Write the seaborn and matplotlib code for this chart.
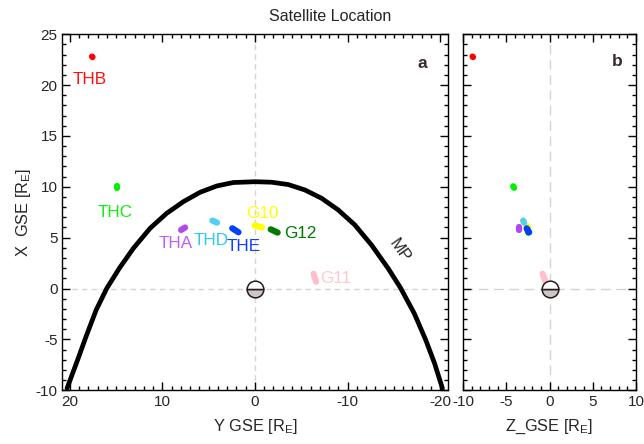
import matplotlib
matplotlib.use("Agg")
import matplotlib.pyplot as plt
from matplotlib.ticker import MultipleLocator
import pandas as pd
import seaborn as sns

# magnetopause curve (Y GSE, X GSE)
mp_y = [20.3, 19.15, 18.25, 17.15, 16.0, 14.65, 13.13, 11.33, 9.53, 7.73, 5.93, 4.13, 2.34, 0.0,
        -1.8, -3.6, -5.39, -7.2, -9.0, -10.79, -12.59, -14.38, -15.7, -17.2, -18.45, -19.4, -20.25]
mp_x = [-9.81, -7.0, -4.73, -2.1, 0.03, 1.99, 3.96, 5.92, 7.4, 8.54, 9.46, 10.08, 10.42, 10.5,
        10.45, 10.22, 9.69, 8.87, 7.72, 6.25, 4.28, 1.99, 0.1, -2.43, -5.06, -7.35, -9.81]

# satellite tracks: start and end of each short track
sats = ["G10", "G12", "G11", "THB", "THC", "THA", "THD", "THE"]
sat_y = [[0.05, -0.75], [-1.7, -2.45], [-6.33, -6.6], [17.6, 17.55], [14.9, 14.9],
         [7.55, 7.98], [4.6, 4.1], [2.45, 1.78]]
sat_x = [[6.2, 6.02], [5.82, 5.5], [1.45, 0.67], [22.8, 22.75], [10.05, 9.9],
         [6.0, 5.76], [6.68, 6.48], [5.92, 5.53]]
sat_z = [[-2.65, -2.45], [-2.55, -2.45], [-0.8, -0.48], [-8.9, -8.85], [-4.2, -4.1],
         [-3.5, -3.5], [-3.05, -2.95], [-2.65, -2.35]]
sat_colors = ["#ffff00", "#007a00", "#ffc0cb", "#ff0000", "#00f000",
              "#b048f0", "#50d0f0", "#0040ff"]

# label positions (Y, X)
lab_y = [-0.81, -4.91, -8.72, 17.8, 15.08, 8.58, 4.77, 1.17]
lab_x = [7.35, 5.41, 0.97, 20.5, 7.48, 4.38, 4.68, 4.09]
lab_colors = ["#ffff00", "#007a00", "#ffc8d0", "#ff1010", "#10f010",
              "#c060f0", "#30c8f0", "#1040ff"]

sns.set_style("ticks")
plt.rcParams['font.family'] = ['Liberation Sans', 'DejaVu Sans']
plt.rcParams['font.size'] = 10
plt.rcParams['axes.unicode_minus'] = False
plt.rcParams['mathtext.fontset'] = 'custom'
plt.rcParams['mathtext.rm'] = 'Liberation Sans'

fig = plt.figure(figsize=(6.44, 4.44), dpi=100)
ax = fig.add_axes([0.0969, 0.121, 0.598, 0.802])
bx = fig.add_axes([0.719, 0.121, 0.2686, 0.802])

ax.axvline(0, color="#d4d4d4", lw=1, ls=(0, (4, 3)), zorder=0)
ax.axhline(0, color="#d4d4d4", lw=1, ls=(0, (4, 3)), zorder=0)
bx.axvline(0, color="#d4d4d4", lw=1, ls=(0, (7, 4)), zorder=0)
bx.axhline(0, color="#d4d4d4", lw=1, ls=(0, (7, 4)), zorder=0)

mp = pd.DataFrame({"Y": mp_y, "X": mp_x})
sns.lineplot(data=mp, x="Y", y="X", sort=False, estimator=None, color="black",
             lw=3.4, solid_joinstyle="round", ax=ax, zorder=3)

for i, name in enumerate(sats):
    d = pd.DataFrame({"Y": sat_y[i], "X": sat_x[i], "Z": sat_z[i]})
    sns.lineplot(data=d, x="Y", y="X", sort=False, estimator=None, color=sat_colors[i],
                 lw=4.5, solid_capstyle="round", ax=ax, zorder=4)
    sns.lineplot(data=d, x="Z", y="X", sort=False, estimator=None, color=sat_colors[i],
                 lw=4.5, solid_capstyle="round", ax=bx, zorder=4)
    ax.text(lab_y[i], lab_x[i], name, color=lab_colors[i], ha="center", va="center",
            fontsize=12.3)

ax.text(-15.64, 3.71, "MP", rotation=-55, ha="center", va="center", fontsize=12)

# Earth
for a in (ax, bx):
    a.plot([0], [0], marker="o", ms=12, fillstyle="bottom", markerfacecolor="#c8c8c8",
           markerfacecoloralt="white", markeredgecolor="#2a1a1a", mew=1.1, zorder=5)

ax.set_xlim(20.8, -20.8)
ax.set_ylim(-10, 25)
bx.set_xlim(-10, 10)
bx.set_ylim(-10, 25)

ax.xaxis.set_major_locator(MultipleLocator(10))
ax.xaxis.set_minor_locator(MultipleLocator(1))
bx.xaxis.set_major_locator(MultipleLocator(5))
bx.xaxis.set_minor_locator(MultipleLocator(1))
for a in (ax, bx):
    a.yaxis.set_major_locator(MultipleLocator(5))
    a.yaxis.set_minor_locator(MultipleLocator(1))
    a.tick_params(which="both", direction="in", top=True, right=True, labelsize=11,
                  color="black", width=1)
    a.tick_params(which="major", length=6)
    a.tick_params(which="minor", length=3.2)
    for s in a.spines.values():
        s.set_linewidth(1)
        s.set_color("black")
bx.tick_params(labelleft=False)

ax.set_xlabel("Y GSE [R$_\\mathregular{E}$]", fontsize=11.8, labelpad=6)
ax.set_ylabel("X  GSE [R$_\\mathregular{E}$]", fontsize=11.8, labelpad=2)
bx.set_xlabel("Z_GSE [R$_\\mathregular{E}$]", fontsize=11.8, labelpad=6)
bx.set_ylabel("")

ax.text(0.935, 0.917, "a", transform=ax.transAxes, ha="center", va="center",
        fontsize=12.5, fontweight="bold", color="#3a2a2a")
bx.text(0.893, 0.922, "b", transform=bx.transAxes, ha="center", va="center",
        fontsize=12.5, fontweight="bold", color="#3a2a2a")

fig.text(0.512, 0.962, "Satellite Location", ha="center", va="center", fontsize=11.5)

fig.savefig("out.png", dpi=100)
